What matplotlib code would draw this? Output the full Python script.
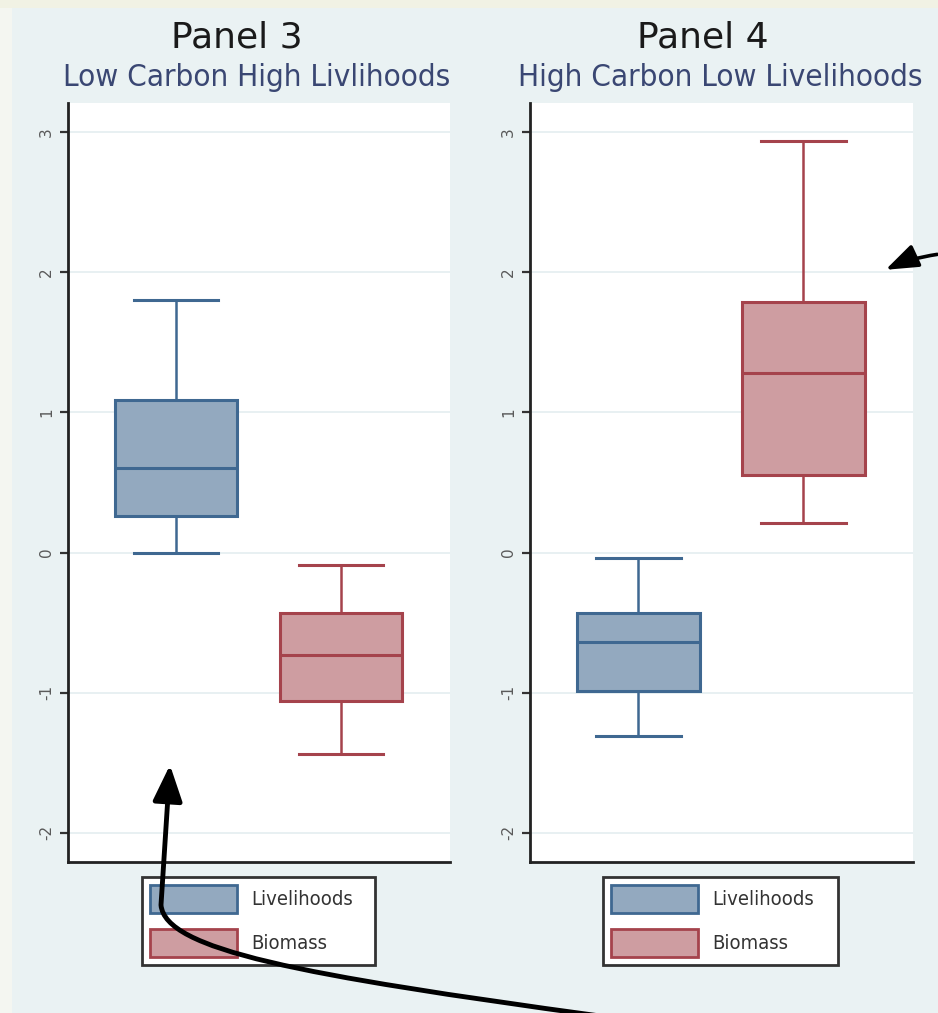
import matplotlib
matplotlib.use('Agg')
import matplotlib.pyplot as plt
from matplotlib.patches import Patch, Rectangle, FancyArrowPatch
from matplotlib.path import Path
from matplotlib import font_manager as fm

# ---------------- data ----------------
panel_titles = ['Panel 3', 'Panel 4']
panel_subtitles = ['Low Carbon High Livlihoods', 'High Carbon Low Livelihoods']
series_names = ['Livelihoods', 'Biomass']
# [lower whisker, Q1, median, Q3, upper whisker]
p3_livelihoods = [0.00, 0.26, 0.60, 1.09, 1.80]
p3_biomass = [-1.44, -1.06, -0.73, -0.43, -0.09]
p4_livelihoods = [-1.31, -0.99, -0.64, -0.43, -0.04]
p4_biomass = [0.21, 0.55, 1.28, 1.79, 2.94]
y_ticks = [-2, -1, 0, 1, 2, 3]
y_tick_labels = ['-2', '-1', '0', '1', '2', '3']

# ---------------- style ----------------
W, H = 938, 1013
BG = '#EAF2F3'
FILL = ['#93A9BF', '#CE9DA1']
EDGE = ['#3F6891', '#A5434C']

# pick a condensed face if one is installed
cond_path = None
for f in fm.fontManager.ttflist:
    if f.name == 'DejaVu Sans' and f.stretch in ('condensed', 'semi-condensed', 600, 700) \
            and f.style == 'normal' and f.weight in (400, 'normal'):
        cond_path = f.fname
        break
    if 'Condensed' in f.fname and 'DejaVuSans' in f.fname and 'Bold' not in f.fname \
            and 'Oblique' not in f.fname:
        cond_path = f.fname
        break

fig = plt.figure(figsize=(W / 100, H / 100), dpi=100, facecolor=BG)

fig.add_artist(Rectangle((0, 0), 12 / W, 1, transform=fig.transFigure,
                         facecolor='#F4F6F1', edgecolor='none', zorder=0))
fig.add_artist(Rectangle((0, 1 - 8 / H), 1, 8 / H, transform=fig.transFigure,
                         facecolor='#F1F2E4', edgecolor='none', zorder=0))


def fx(px):
    return px / W


def fy(py):
    return 1 - py / H


def narrow_prop(size):
    if cond_path:
        return fm.FontProperties(fname=cond_path, size=size)
    return fm.FontProperties(family='DejaVu Sans', size=size * 0.85)


panel_data = [[p3_livelihoods, p3_biomass], [p4_livelihoods, p4_biomass]]
axes_px = [(68, 450), (530, 913)]
title_cx = [237, 703]
sub_cx = [257, 720]
legend_x = [(142, 375), (603, 838)]
top_px, bot_px = 103, 862

for i in range(2):
    x0, x1 = axes_px[i]
    ax = fig.add_axes([fx(x0), fy(bot_px), (x1 - x0) / W, (bot_px - top_px) / H])
    ax.set_facecolor('white')
    stats = []
    for vals, name in zip(panel_data[i], series_names):
        stats.append(dict(whislo=vals[0], q1=vals[1], med=vals[2], q3=vals[3],
                          whishi=vals[4], fliers=[], label=name))
    positions = [0.283, 0.714]
    for j in range(2):
        ax.bxp([stats[j]], positions=[positions[j]], widths=0.32, capwidths=0.22,
               patch_artist=True, showfliers=False,
               boxprops=dict(facecolor=FILL[j], edgecolor=EDGE[j], linewidth=2.2),
               medianprops=dict(color=EDGE[j], linewidth=2.2),
               whiskerprops=dict(color=EDGE[j], linewidth=1.8),
               capprops=dict(color=EDGE[j], linewidth=2.2))
    ax.set_xlim(0, 1)
    ax.set_ylim(-2.21, 3.21)
    ax.set_xticks([])
    ax.set_yticks(y_ticks)
    ax.set_yticklabels(y_tick_labels, rotation=90, va='center')
    ax.tick_params(axis='y', length=6, width=1.6, color='#333333',
                   labelsize=11, labelcolor='#5A5A5A', pad=4)
    ax.yaxis.grid(True, color='#E4EEF0', linewidth=1.2)
    ax.set_axisbelow(True)
    for s in ['top', 'right']:
        ax.spines[s].set_visible(False)
    for s in ['left', 'bottom']:
        ax.spines[s].set_color('#222222')
        ax.spines[s].set_linewidth(2)

    handles = [Patch(facecolor=FILL[k], edgecolor=EDGE[k], linewidth=2,
                     label=series_names[k]) for k in range(2)]
    lx0, lx1 = legend_x[i]
    leg = ax.legend(handles=handles, loc='upper left', mode='expand',
                    bbox_to_anchor=(fx(lx0), fy(968), (lx1 - lx0) / W, 91 / H),
                    bbox_transform=fig.transFigure,
                    prop=narrow_prop(14.5),
                    handlelength=4.3, handleheight=1.75, handletextpad=0.7,
                    labelspacing=0.8, borderpad=0.4, borderaxespad=0,
                    fancybox=False, framealpha=1, edgecolor='#333333')
    leg.get_frame().set_linewidth(2)
    for t in leg.get_texts():
        t.set_color('#333333')

    fig.text(fx(title_cx[i]), fy(38), panel_titles[i], ha='center', va='center',
             fontsize=26, color='#1A1A1A')
    fig.text(fx(sub_cx[i]), fy(78), panel_subtitles[i], ha='center', va='center',
             fontproperties=narrow_prop(22.5), color='#3A4773')

# ---------------- annotation arrows ----------------
pts = [(600, 1016), (300, 975), (165, 950), (161, 905), (170, 765)]
codes = [Path.MOVETO, Path.CURVE4, Path.CURVE4, Path.CURVE4, Path.LINETO]
path = Path([(fx(x), fy(y)) for x, y in pts], codes)
arr1 = FancyArrowPatch(path=path, transform=fig.transFigure,
                       arrowstyle='-|>,head_length=2.2,head_width=0.9',
                       mutation_scale=10, color='black', linewidth=3.5,
                       zorder=10)
fig.add_artist(arr1)

arr2 = FancyArrowPatch((fx(940), fy(254)), (fx(883), fy(271)),
                       transform=fig.transFigure,
                       connectionstyle='arc3,rad=0.08',
                       arrowstyle='-|>,head_length=2.2,head_width=0.8',
                       mutation_scale=9, color='black', linewidth=2.6,
                       zorder=10)
fig.add_artist(arr2)

fig.savefig('out.png', dpi=100, facecolor=BG)
